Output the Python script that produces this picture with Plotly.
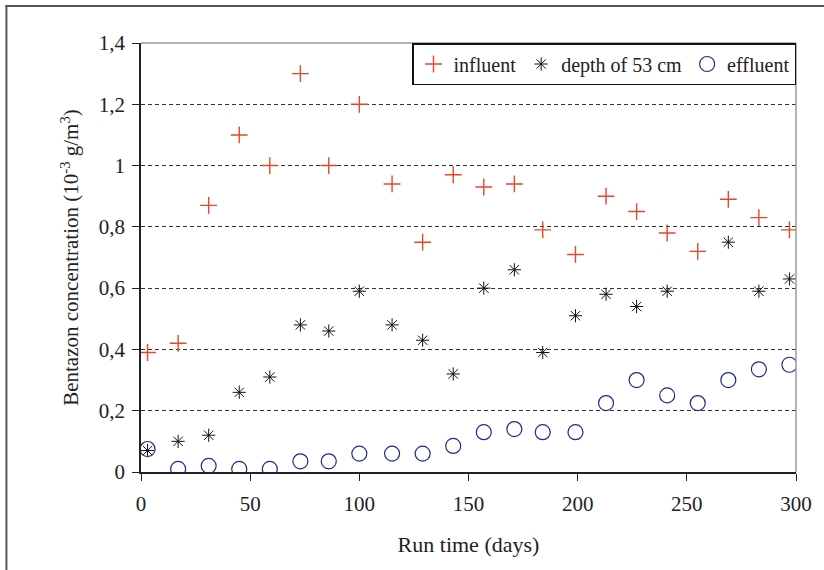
import plotly.graph_objects as go

days = [3, 17, 31, 45, 59, 73, 86, 100, 115, 129, 143, 157, 171, 184, 199, 213, 227, 241, 255, 269, 283, 297]
influent = [0.39, 0.42, 0.87, 1.10, 1.00, 1.30, 1.00, 1.20, 0.94, 0.75, 0.97, 0.93, 0.94, 0.79, 0.71, 0.90, 0.85, 0.78, 0.72, 0.89, 0.83, 0.79]
depth_days = [3, 17, 31, 45, 59, 73, 86, 100, 115, 129, 143, 157, 171, 184, 199, 213, 227, 241, 269, 283, 297]
depth53 = [0.07, 0.10, 0.12, 0.26, 0.31, 0.48, 0.46, 0.59, 0.48, 0.43, 0.32, 0.60, 0.66, 0.39, 0.51, 0.58, 0.54, 0.59, 0.75, 0.59, 0.63]
effluent = [0.075, 0.01, 0.02, 0.01, 0.01, 0.035, 0.035, 0.06, 0.06, 0.06, 0.085, 0.13, 0.14, 0.13, 0.13, 0.225, 0.30, 0.25, 0.225, 0.30, 0.335, 0.35]

y_ticks = [0, 0.2, 0.4, 0.6, 0.8, 1.0, 1.2, 1.4]
y_tick_labels = ["0", "0,2", "0,4", "0,6", "0,8", "1", "1,2", "1,4"]
x_ticks = [0, 50, 100, 150, 200, 250, 300]

font = "Liberation Serif, Times New Roman, serif"
RED = "#e8462a"
NAVY = "#1e2a8c"
BLK = "#111111"
TXT = "#222222"

fig = go.Figure()
fig.add_trace(go.Scatter(x=days, y=influent, mode="markers", name="influent",
                         marker=dict(symbol="cross-thin", size=12, color=RED, line=dict(color=RED, width=1.4))))
fig.add_trace(go.Scatter(x=depth_days, y=depth53, mode="markers", name="depth of 53 cm",
                         marker=dict(symbol="asterisk-open", size=11, color=BLK, line=dict(color=BLK, width=1.0))))
fig.add_trace(go.Scatter(x=days, y=effluent, mode="markers", name="effluent",
                         marker=dict(symbol="circle-open", size=15, color=NAVY, line=dict(color=NAVY, width=1.2))))

L, R, T, B = 141, 26, 43, 98
W, H = 824, 570
pw, ph = W - L - R, H - T - B

def px(xp):
    return (xp - L) / pw

def py(yp):
    return (H - B - yp) / ph

shapes = [
    dict(type="line", xref="paper", yref="paper", x0=0, x1=1, y0=1, y1=1, line=dict(color="#9a9a9a", width=1.5)),
    dict(type="line", xref="paper", yref="paper", x0=1, x1=1, y0=0, y1=1, line=dict(color="#9a9a9a", width=1.5)),
    dict(type="line", xref="paper", yref="paper", x0=px(6), x1=px(6), y0=py(5), y1=py(575), line=dict(color="#555555", width=2)),
    dict(type="line", xref="paper", yref="paper", x0=px(5), x1=px(830), y0=py(6), y1=py(6), line=dict(color="#555555", width=2)),
]

fig.update_layout(
    width=W, height=H,
    margin=dict(l=L, r=R, t=T, b=B),
    paper_bgcolor="white", plot_bgcolor="white",
    font=dict(family=font, size=21, color=TXT),
    showlegend=True,
    legend=dict(orientation="h", x=1, xanchor="right", y=1, yanchor="top",
                bgcolor="white", bordercolor=BLK, borderwidth=1.5,
                font=dict(family=font, size=20, color=TXT), itemwidth=30, tracegroupgap=0),
    shapes=shapes,
    xaxis=dict(range=[0, 300], tickvals=x_ticks, ticks="outside", ticklen=7, tickcolor="#222",
               showline=True, linecolor="#222", linewidth=1.5, showgrid=False, zeroline=False,
               ticklabelstandoff=5,
               title=dict(text="Run time (days)", font=dict(size=22), standoff=22),
               tickfont=dict(size=21)),
    yaxis=dict(range=[0, 1.4], tickvals=y_ticks, ticktext=y_tick_labels, ticks="outside", ticklen=7,
               tickcolor="#222", showline=True, linecolor="#222", linewidth=1.5,
               showgrid=True, gridcolor="#333333", griddash="4px,3px", gridwidth=1.3, zeroline=False,
               ticklabelstandoff=3,
               title=dict(text="Bentazon concentration (10<sup>-3</sup> g/m<sup>3</sup>)", font=dict(size=21), standoff=14),
               tickfont=dict(size=21)),
)

fig.write_html("out.html", config={"displayModeBar": False},
               post_script="document.body.style.margin='0px';")
